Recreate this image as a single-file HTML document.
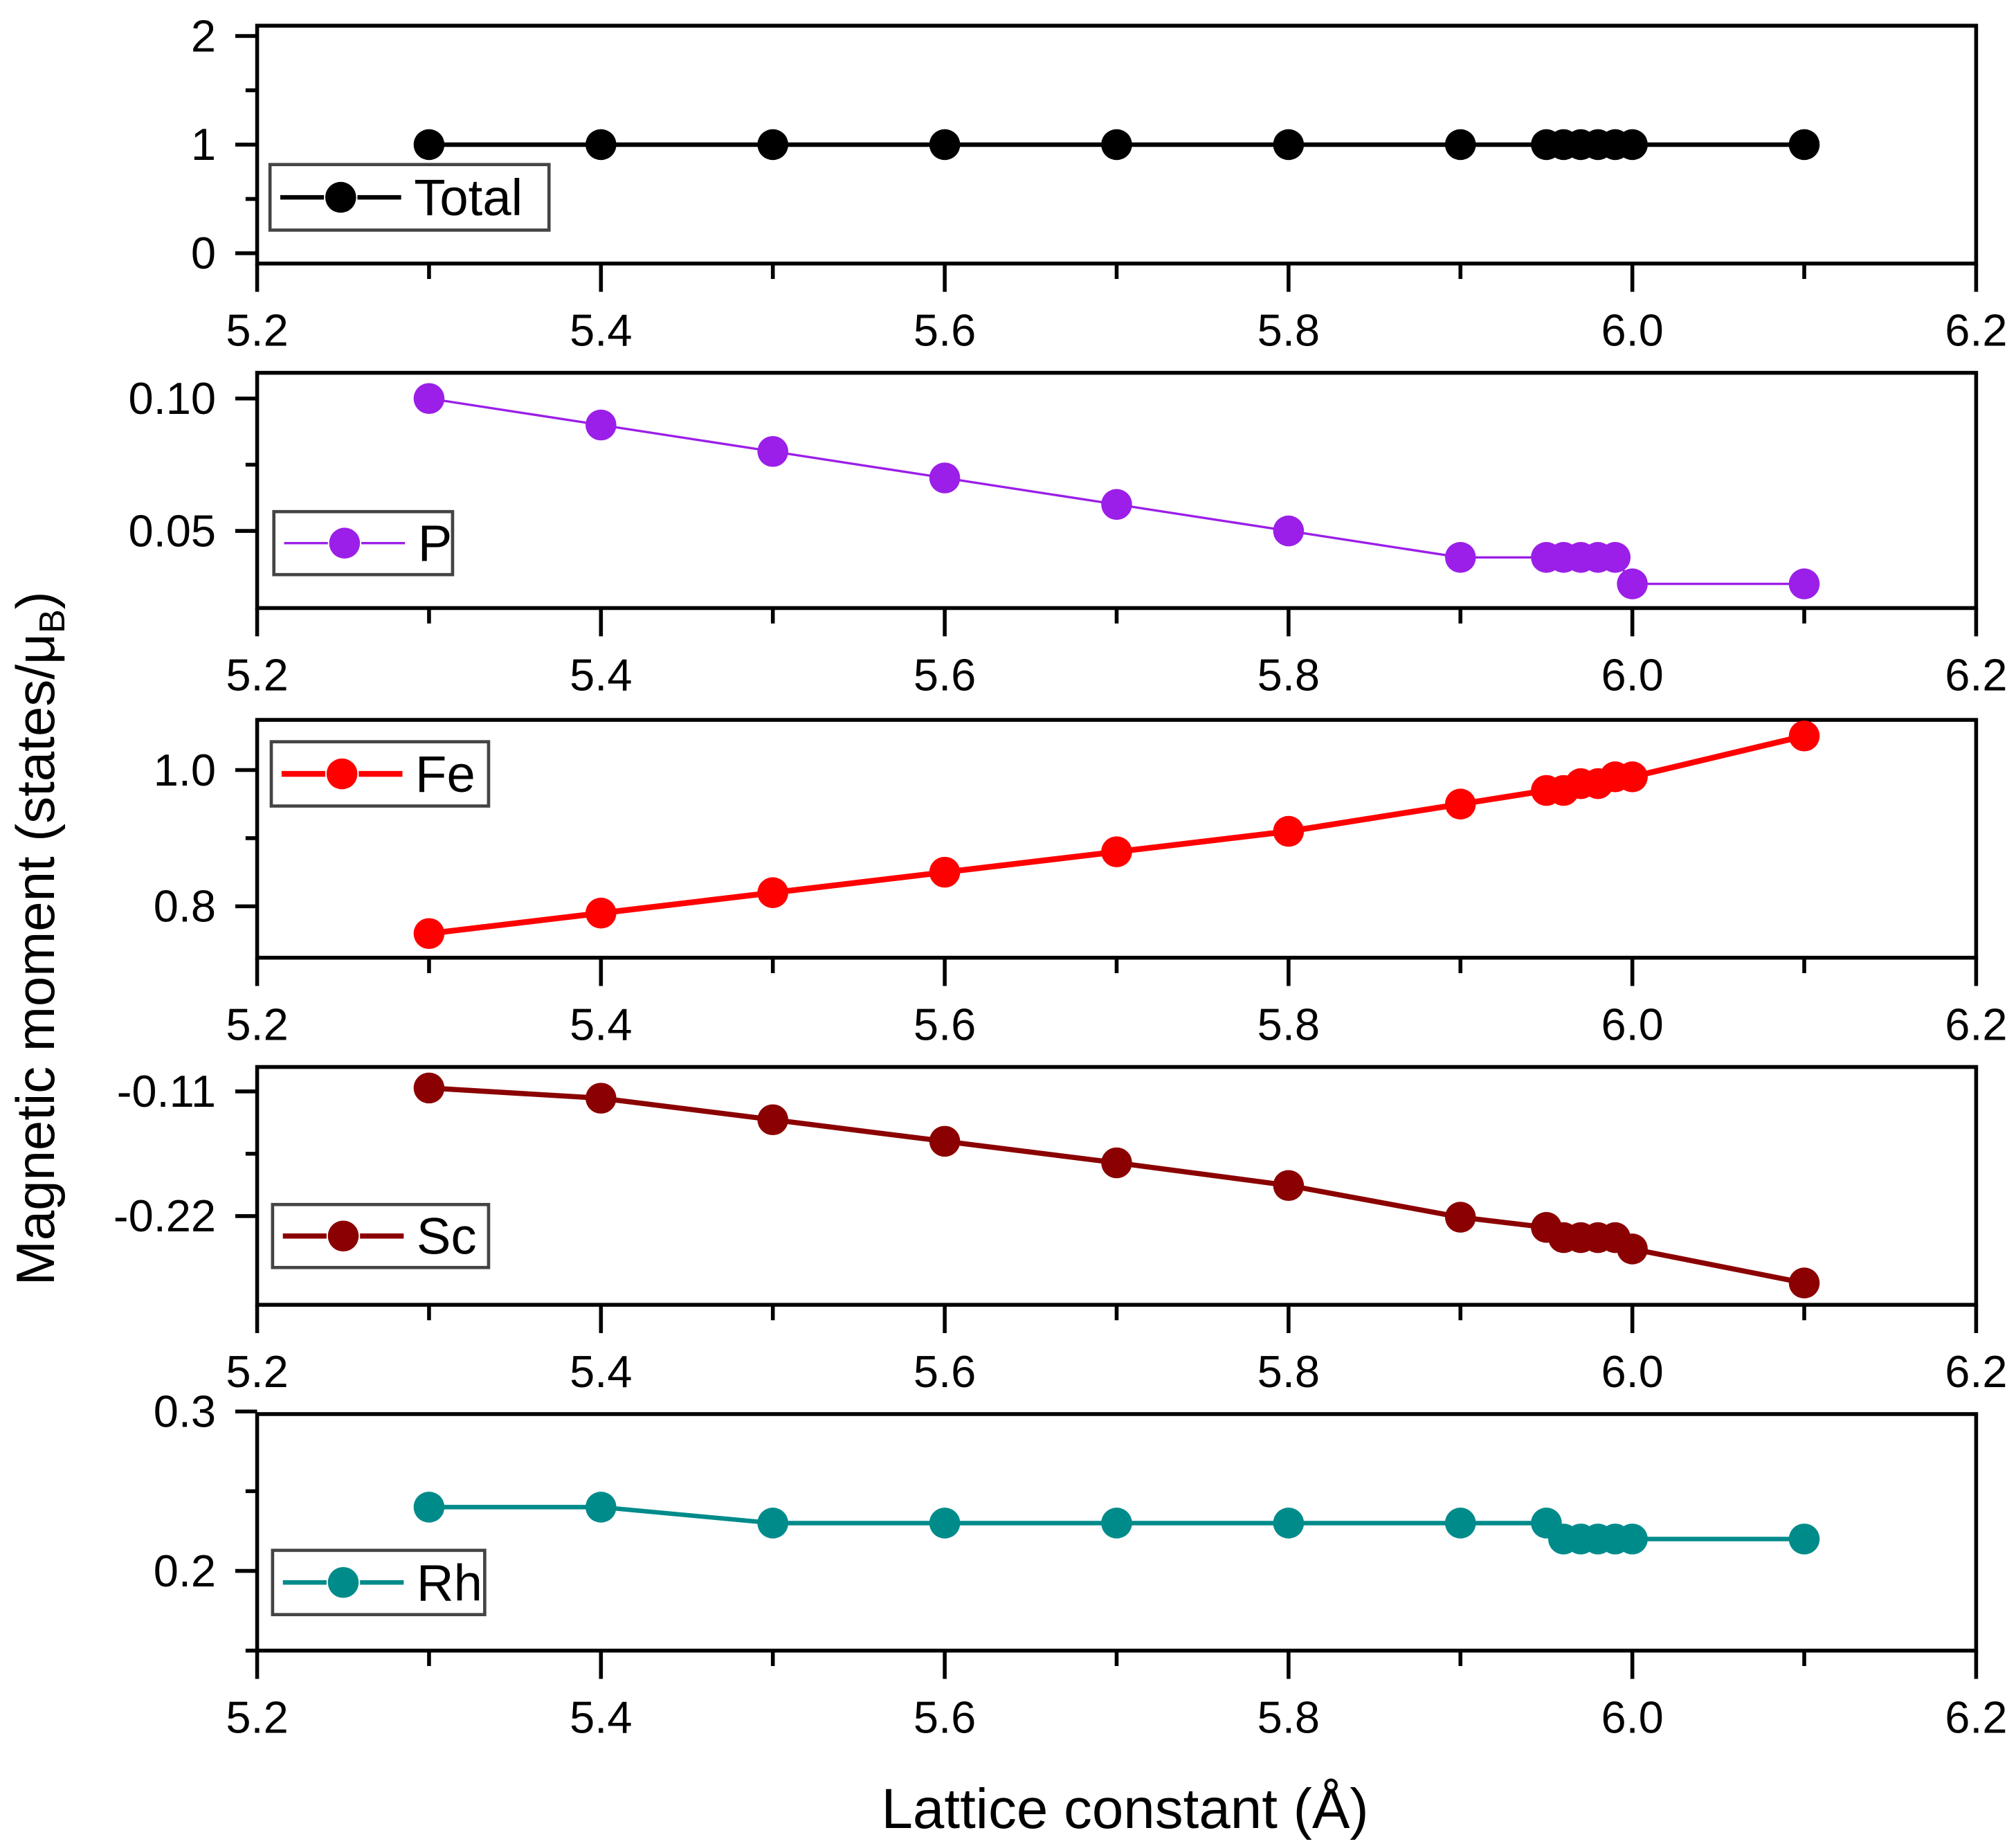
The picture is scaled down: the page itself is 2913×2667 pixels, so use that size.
<!DOCTYPE html>
<html><head><meta charset="utf-8"><style>
html,body{margin:0;padding:0;background:#fff;}
svg{display:block;}
text{font-family:"Liberation Sans",Arial,sans-serif;}
</style></head><body>
<svg id="chart" width="2913" height="2667" viewBox="0 0 1568 1436" preserveAspectRatio="none" xmlns="http://www.w3.org/2000/svg">
<g id="root"></g>
</svg>
<script>
const xValues=[5.3,5.4,5.5,5.6,5.7,5.8,5.9,5.95,5.96,5.97,5.98,5.99,6.0,6.1];
const totalValues=[1,1,1,1,1,1,1,1,1,1,1,1,1,1];
const pValues=[0.10,0.09,0.08,0.07,0.06,0.05,0.04,0.04,0.04,0.04,0.04,0.04,0.03,0.03];
const feValues=[0.76,0.79,0.82,0.85,0.88,0.91,0.95,0.97,0.97,0.98,0.98,0.99,0.99,1.05];
const scValues=[-0.107,-0.116,-0.135,-0.154,-0.173,-0.193,-0.221,-0.230,-0.239,-0.239,-0.239,-0.239,-0.249,-0.279];
const rhValues=[0.24,0.24,0.23,0.23,0.23,0.23,0.23,0.23,0.22,0.22,0.22,0.22,0.22,0.22];
const xTickLabels=["5.2","5.4","5.6","5.8","6.0","6.2"];
const seriesNames=["Total","P","Fe","Sc","Rh"];

const NS="http://www.w3.org/2000/svg";
const root=document.getElementById('root');
function mk(tag,attrs,parent){const e=document.createElementNS(NS,tag);for(const k in attrs)e.setAttribute(k,attrs[k]);(parent||root).appendChild(e);return e;}
const X0=200,X1=1537;
function xs(v){return X0+(v-5.2)/(6.2-5.2)*(X1-X0);}

const panels=[
 {name:"total",vals:totalValues,color:"#000",lw:3.5,top:20,bot:205,v1:2,p1:28,v2:0,p2:197,ticks:[[2,"2"],[1,"1"],[0,"0"]],minor:[1.5,0.5],leg:[210,128,427,179]},
 {name:"p",vals:pValues,color:"#9b1fe8",lw:1.8,top:290,bot:473,v1:0.10,p1:310,v2:0.05,p2:413,ticks:[[0.10,"0.10"],[0.05,"0.05"]],minor:[0.075],leg:[213,398,352,447]},
 {name:"fe",vals:feValues,color:"#ff0000",lw:4.5,top:560,bot:745,v1:1.0,p1:599,v2:0.8,p2:705,ticks:[[1.0,"1.0"],[0.8,"0.8"]],minor:[0.9],leg:[211,577,380,627]},
 {name:"sc",vals:scValues,color:"#8b0000",lw:4,top:830,bot:1015,v1:-0.11,p1:849,v2:-0.22,p2:946,ticks:[[-0.11,"-0.11"],[-0.22,"-0.22"]],minor:[-0.165],leg:[212,937,380,986]},
 {name:"rh",vals:rhValues,color:"#008b8b",lw:3.5,top:1100,bot:1284,v1:0.3,p1:1098,v2:0.2,p2:1222,ticks:[[0.3,"0.3"],[0.2,"0.2"]],minor:[0.25,0.15],leg:[212,1206,377,1256]}
];

panels.forEach((p,i)=>{
 const g=mk('g',{});
 
 
 const ys=v=>p.p2+(v-p.v2)/(p.v1-p.v2)*(p.p1-p.p2);
 const frame=mk('rect',{x:X0,y:p.top,width:X1-X0,height:p.bot-p.top,fill:'none',stroke:'#000','stroke-width':3},g);
 
 
 for(let k=0;k<=10;k++){
  const v=5.2+k*0.1, x=xs(v), major=k%2===0;
  mk('line',{x1:x,y1:p.bot,x2:x,y2:p.bot+(major?22:12),stroke:'#000','stroke-width':3},g);
  if(major){
   const t=mk('text',{x:x,y:p.bot+64,'font-size':35,'text-anchor':'middle',fill:'#000'},g);
   t.textContent=xTickLabels[k/2];
   
   
  }
 }
 p.ticks.forEach(([v,l])=>{
  const y=ys(v);
  mk('line',{x1:X0,y1:y,x2:X0-17,y2:y,stroke:'#000','stroke-width':3},g);
  const t=mk('text',{x:168,y:y+12,'font-size':35,'text-anchor':'end',fill:'#000'},g);
  t.textContent=l;
  
  
 });
 p.minor.forEach(v=>{const y=ys(v);mk('line',{x1:X0,y1:y,x2:X0-9,y2:y,stroke:'#000','stroke-width':3},g);});
 const pts=xValues.map((x,j)=>xs(x)+','+ys(p.vals[j])).join(' ');
 const line=mk('polyline',{points:pts,fill:'none',stroke:p.color,'stroke-width':p.lw},g);
 
 
 xValues.forEach((x,j)=>{
  const c=mk('circle',{cx:xs(x),cy:ys(p.vals[j]),r:12,fill:p.color},g);
  
  
 });
 const [lx1,ly1,lx2,ly2]=p.leg;
 const lg=mk('g',{},g);
 
 
 mk('rect',{x:lx1,y:ly1,width:lx2-lx1,height:ly2-ly1,fill:'#fff',stroke:'#444','stroke-width':2.5},lg);
 const cy=(ly1+ly2)/2;
 mk('line',{x1:lx1+8,y1:cy,x2:lx1+42,y2:cy,stroke:p.color,'stroke-width':p.lw},lg);
 mk('line',{x1:lx1+68,y1:cy,x2:lx1+102,y2:cy,stroke:p.color,'stroke-width':p.lw},lg);
 mk('circle',{cx:lx1+55,cy:cy,r:12,fill:p.color},lg);
 const lt=mk('text',{x:lx1+112,y:cy+14,'font-size':40,fill:'#000'},lg);
 lt.textContent=seriesNames[i];
});
const yt=mk('text',{x:0,y:0,'font-size':42,'text-anchor':'middle',fill:'#000',transform:'translate(42,730) rotate(-90)'});


yt.innerHTML='Magnetic moment (states/μ<tspan font-size="28" dy="8">B</tspan><tspan dy="-8">)</tspan>';
const xt=mk('text',{x:875,y:1422,'font-size':44,'text-anchor':'middle',fill:'#000'});


xt.textContent='Lattice constant (Å)';
</script>
</body></html>
